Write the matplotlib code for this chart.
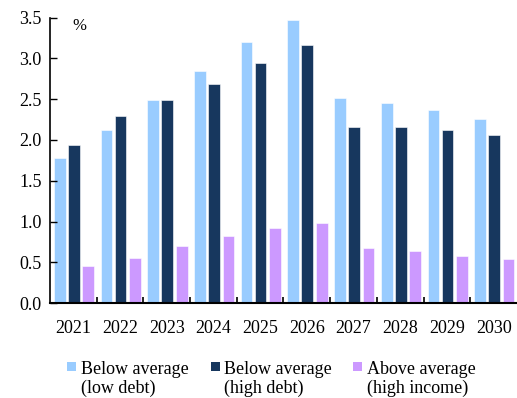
import matplotlib.pyplot as plt
from matplotlib.patches import Rectangle
import numpy as np

plt.rcParams['font.family'] = ['Liberation Serif', 'DejaVu Serif']

years = ['2021', '2022', '2023', '2024', '2025', '2026', '2027', '2028', '2029', '2030']
low_debt = [1.78, 2.12, 2.49, 2.85, 3.20, 3.47, 2.51, 2.45, 2.37, 2.26]
high_debt = [1.94, 2.29, 2.49, 2.69, 2.94, 3.16, 2.16, 2.16, 2.12, 2.06]
high_income = [0.46, 0.56, 0.70, 0.82, 0.92, 0.98, 0.68, 0.64, 0.58, 0.54]

labels = ['Below average\n(low debt)', 'Below average\n(high debt)', 'Above average\n(high income)']
colors = ['#99CCFF', '#17375E', '#CC99FF']

fig = plt.figure(figsize=(5.17, 3.98), dpi=100)
ax = fig.add_axes([0.0967, 0.238, 0.9033, 0.718])

x = np.arange(len(years))
w = 0.25
for off, vals, c in zip([-0.29, 0.01, 0.32], [low_debt, high_debt, high_income], colors):
    ax.bar(x + off, vals, w, color=c, edgecolor='white', linewidth=0.4)

ax.set_xlim(-0.5, len(years) - 0.5)
ax.set_ylim(0, 3.5)
ax.set_yticks(np.arange(0, 3.51, 0.5))
ax.set_yticklabels([f'{v:.1f}' for v in np.arange(0, 3.51, 0.5)], fontsize=13)
ax.set_xticks(x)
ax.set_xticklabels(years, fontsize=13)
ax.set_xticks(np.arange(0.5, len(years) - 0.5, 1), minor=True)
ax.tick_params(axis='x', which='major', length=0, pad=12)
ax.tick_params(axis='x', which='minor', direction='in', length=4, width=1.2)
ax.tick_params(axis='y', direction='in', length=5, width=1, pad=6)
for s in ['top', 'right']:
    ax.spines[s].set_visible(False)
ax.spines['left'].set_linewidth(1.2)
ax.spines['bottom'].set_linewidth(1.5)
ax.text(0.047, 1.0, '%', transform=ax.transAxes, fontsize=12, va='top')

# legend drawn by hand, squares aligned with first line
W, H = 517, 398
sq = [66.7, 210.7, 353.3]
tx = [80.7, 224, 366.7]
for s, t, c, lab in zip(sq, tx, colors, labels):
    fig.patches.append(Rectangle((s / W, 1 - 371 / H), 9 / W, 9 / H, transform=fig.transFigure,
                                 facecolor=c, edgecolor='none'))
    fig.text(t / W, 1 - 361 / H, lab, fontsize=13, va='top', ha='left', linespacing=1.1)

fig.savefig('out.png', dpi=100)
